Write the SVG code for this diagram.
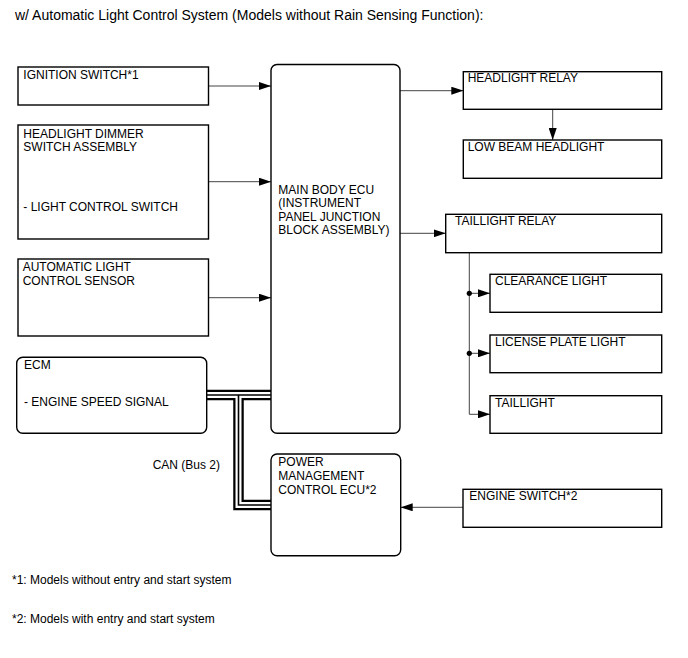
<svg xmlns="http://www.w3.org/2000/svg" width="688" height="658" viewBox="0 0 688 658">
<style>
text{font-family:"Liberation Sans",Arial,sans-serif;font-size:12px;fill:#000}
.title{font-size:14px}
.box{fill:#fff;stroke:#000;stroke-width:1.4}
.ln{fill:none;stroke:#444;stroke-width:1}
.busA{fill:none;stroke:#000;stroke-width:10.5}
.busB{fill:none;stroke:#fff;stroke-width:6}
.busC{fill:none;stroke:#000;stroke-width:1.6}
</style>
<defs>
<marker id="ar" viewBox="0 0 12 8" refX="12" refY="4" markerWidth="12" markerHeight="8" markerUnits="userSpaceOnUse" orient="auto">
<path d="M0,0 L12,4 L0,8 Z" fill="#000"/>
</marker>
</defs>
<rect width="688" height="658" fill="#fff"/>
<text class="title" x="15" y="19.5">w/ Automatic Light Control System (Models without Rain Sensing Function):</text>

<g id="connectors">
<line class="ln" x1="208.5" y1="86" x2="271" y2="86" marker-end="url(#ar)"/>
<line class="ln" x1="208.5" y1="181.7" x2="271" y2="181.7" marker-end="url(#ar)"/>
<line class="ln" x1="208.5" y1="297.7" x2="271" y2="297.7" marker-end="url(#ar)"/>
<line class="ln" x1="400" y1="90.7" x2="463.3" y2="90.7" marker-end="url(#ar)"/>
<line class="ln" x1="552.7" y1="109.3" x2="552.7" y2="140" marker-end="url(#ar)"/>
<line class="ln" x1="400" y1="233.3" x2="445.7" y2="233.3" marker-end="url(#ar)"/>
<path class="ln" d="M469.3,252.7 V414.3 H490" marker-end="url(#ar)"/>
<line class="ln" x1="469.3" y1="293.3" x2="490" y2="293.3" marker-end="url(#ar)"/>
<line class="ln" x1="469.3" y1="353.3" x2="490" y2="353.3" marker-end="url(#ar)"/>
<circle cx="469.3" cy="293.3" r="2.6" fill="#000"/>
<circle cx="469.3" cy="353.3" r="2.6" fill="#000"/>
<line class="ln" x1="463" y1="507.3" x2="400.7" y2="507.3" marker-end="url(#ar)"/>
<g id="can-bus">
<path class="busA" d="M206.7,395 H271"/>
<path class="busA" d="M238.5,395 V505 H271"/>
<path class="busB" d="M206.7,395 H271"/>
<path class="busB" d="M238.5,395 V505 H271"/>
<path class="busC" d="M206.7,395 H271"/>
<path class="busC" d="M238.5,395 V505 H271"/>
</g>
</g>

<g id="ignition-switch">
<rect class="box" x="18" y="67" width="190.5" height="38"/>
<text x="23.3" y="78.5">IGNITION SWITCH*1</text>
</g>
<g id="headlight-dimmer">
<rect class="box" x="18" y="125" width="190.5" height="114"/>
<text x="23.3" y="137.5">HEADLIGHT DIMMER</text>
<text x="23.3" y="151">SWITCH ASSEMBLY</text>
<text x="23.3" y="211">- LIGHT CONTROL SWITCH</text>
</g>
<g id="auto-light-sensor">
<rect class="box" x="18" y="259" width="190.5" height="77"/>
<text x="22.7" y="271">AUTOMATIC LIGHT</text>
<text x="22.7" y="285">CONTROL SENSOR</text>
</g>
<g id="ecm">
<rect class="box" x="16.7" y="357.3" width="190" height="76" rx="6"/>
<text x="24" y="369">ECM</text>
<text x="24" y="406">- ENGINE SPEED SIGNAL</text>
</g>
<g id="main-body-ecu">
<rect class="box" x="271" y="64.5" width="129" height="368.8" rx="6"/>
<text x="278.3" y="194">MAIN BODY ECU</text>
<text x="278.3" y="207.3">(INSTRUMENT</text>
<text x="278.3" y="220.6">PANEL JUNCTION</text>
<text x="278.3" y="234">BLOCK ASSEMBLY)</text>
</g>
<g id="power-management-ecu">
<rect class="box" x="271" y="454" width="129.7" height="101.7" rx="6"/>
<text x="278.3" y="465.7">POWER</text>
<text x="278.3" y="480">MANAGEMENT</text>
<text x="278.3" y="494">CONTROL ECU*2</text>
</g>
<text x="152.7" y="468.5">CAN (Bus 2)</text>
<g id="headlight-relay">
<rect class="box" x="463.3" y="71.7" width="198.4" height="37.6"/>
<text x="467.7" y="82">HEADLIGHT RELAY</text>
</g>
<g id="low-beam-headlight">
<rect class="box" x="463.3" y="140" width="198.4" height="38.3"/>
<text x="467.7" y="150.5">LOW BEAM HEADLIGHT</text>
</g>
<g id="taillight-relay">
<rect class="box" x="445.7" y="214.3" width="216" height="38.4"/>
<text x="455" y="225">TAILLIGHT RELAY</text>
</g>
<g id="clearance-light">
<rect class="box" x="490" y="274.3" width="171.7" height="38"/>
<text x="495" y="285">CLEARANCE LIGHT</text>
</g>
<g id="license-plate-light">
<rect class="box" x="490" y="335" width="171.7" height="37.7"/>
<text x="495" y="346">LICENSE PLATE LIGHT</text>
</g>
<g id="taillight">
<rect class="box" x="490" y="395.7" width="171.7" height="37.6"/>
<text x="495" y="406.5">TAILLIGHT</text>
</g>
<g id="engine-switch">
<rect class="box" x="463" y="489.3" width="198.7" height="38"/>
<text x="469.3" y="500">ENGINE SWITCH*2</text>
</g>
<text x="12" y="583.5">*1: Models without entry and start system</text>
<text x="12" y="623">*2: Models with entry and start system</text>
</svg>
